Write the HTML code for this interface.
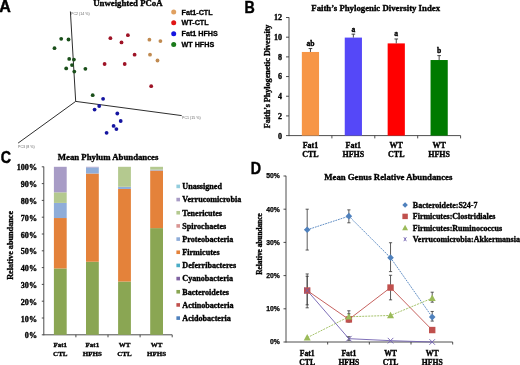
<!DOCTYPE html>
<html><head><meta charset="utf-8"><style>
html,body{margin:0;padding:0;background:#fff;width:520px;height:365px;overflow:hidden}
svg{display:block;will-change:transform;filter:blur(0.3px)}
</style></head><body>
<svg width="520" height="365" viewBox="0 0 520 365">
<rect width="520" height="365" fill="#fff"/>
<text x="0" y="0" font-size="16" text-anchor="middle" font-family='"Liberation Sans", sans-serif' font-weight="bold" fill="#000" stroke="#000" stroke-width="0.45" transform="translate(5.0,12.2) scale(1.0,1)">A</text>
<text x="0" y="0" font-size="16" text-anchor="middle" font-family='"Liberation Sans", sans-serif' font-weight="bold" fill="#000" stroke="#000" stroke-width="0.45" transform="translate(249.7,12.7) scale(0.89,1)">B</text>
<text x="0" y="0" font-size="16" text-anchor="middle" font-family='"Liberation Sans", sans-serif' font-weight="bold" fill="#000" stroke="#000" stroke-width="0.45" transform="translate(5.9,163.3) scale(0.89,1)">C</text>
<text x="0" y="0" font-size="16" text-anchor="middle" font-family='"Liberation Sans", sans-serif' font-weight="bold" fill="#000" stroke="#000" stroke-width="0.45" transform="translate(256.0,173.9) scale(0.89,1)">D</text>
<text x="127.9" y="5.8" font-size="8.75" text-anchor="middle" font-family='"Liberation Serif", serif' font-weight="bold" fill="#000" stroke="#000" stroke-width="0.35" >Unweighted PCoA</text>
<line x1="70.4" y1="11.5" x2="75.7" y2="101.4" stroke="#2e2e2e" stroke-width="1.0" />
<line x1="75.7" y1="101.4" x2="181.7" y2="115.6" stroke="#2e2e2e" stroke-width="1.0" />
<line x1="75.7" y1="101.4" x2="18.1" y2="143.1" stroke="#2e2e2e" stroke-width="1.0" />
<text x="71" y="15.2" font-size="3.6" text-anchor="start" font-family='"Liberation Sans", sans-serif' font-weight="normal" fill="#666"  >PC2 (14 %)</text>
<text x="182" y="119.2" font-size="3.6" text-anchor="start" font-family='"Liberation Sans", sans-serif' font-weight="normal" fill="#666"  >PC1 (15 %)</text>
<text x="18" y="147.6" font-size="3.6" text-anchor="start" font-family='"Liberation Sans", sans-serif' font-weight="normal" fill="#666"  >PC3 (8 %)</text>
<circle cx="110.4" cy="38.2" r="1.9" fill="#9e1326"/>
<circle cx="127.9" cy="35.2" r="1.9" fill="#9e1326"/>
<circle cx="121.5" cy="42.4" r="1.9" fill="#9e1326"/>
<circle cx="134.6" cy="54.7" r="1.9" fill="#9e1326"/>
<circle cx="104.6" cy="64" r="1.9" fill="#9e1326"/>
<circle cx="124.7" cy="64" r="1.9" fill="#9e1326"/>
<circle cx="151.2" cy="86.2" r="1.9" fill="#9e1326"/>
<circle cx="149.4" cy="39.7" r="1.9" fill="#c08a50"/>
<circle cx="160.4" cy="41.1" r="1.9" fill="#c08a50"/>
<circle cx="150" cy="54.7" r="1.9" fill="#c08a50"/>
<circle cx="157.5" cy="60.5" r="1.9" fill="#c08a50"/>
<circle cx="61.2" cy="38.8" r="1.9" fill="#1a4f1a"/>
<circle cx="68.5" cy="39.5" r="1.9" fill="#1a4f1a"/>
<circle cx="69.2" cy="58.9" r="1.9" fill="#1a4f1a"/>
<circle cx="73.9" cy="59.6" r="1.9" fill="#1a4f1a"/>
<circle cx="72" cy="65.1" r="1.9" fill="#1a4f1a"/>
<circle cx="66.2" cy="68.4" r="1.9" fill="#1a4f1a"/>
<circle cx="74.3" cy="71.6" r="1.9" fill="#1a4f1a"/>
<circle cx="85.4" cy="68.8" r="1.9" fill="#1a4f1a"/>
<circle cx="92.7" cy="95.2" r="1.9" fill="#1a4f1a"/>
<circle cx="54.5" cy="48.2" r="1.9" fill="#1a4f1a"/>
<circle cx="103.1" cy="98.8" r="1.9" fill="#1414a0"/>
<circle cx="99.2" cy="106" r="1.9" fill="#1414a0"/>
<circle cx="94.6" cy="109.6" r="1.9" fill="#1414a0"/>
<circle cx="117.3" cy="113.5" r="1.9" fill="#1414a0"/>
<circle cx="120.7" cy="121" r="1.9" fill="#1414a0"/>
<circle cx="113.6" cy="125.9" r="1.9" fill="#1414a0"/>
<circle cx="116.4" cy="129.1" r="1.9" fill="#1414a0"/>
<circle cx="106.6" cy="132.8" r="1.9" fill="#1414a0"/>
<circle cx="173.7" cy="11.9" r="2.5" fill="#e0a060"/>
<text x="181.5" y="14.5" font-size="7.2" text-anchor="start" font-family='"Liberation Sans", sans-serif' font-weight="bold" fill="#000" stroke="#000" stroke-width="0.3" >Fat1-CTL</text>
<circle cx="173.7" cy="22.8" r="2.5" fill="#e01515"/>
<text x="181.5" y="25.400000000000002" font-size="7.2" text-anchor="start" font-family='"Liberation Sans", sans-serif' font-weight="bold" fill="#000" stroke="#000" stroke-width="0.3" >WT-CTL</text>
<circle cx="173.7" cy="33.7" r="2.5" fill="#1515e0"/>
<text x="181.5" y="36.300000000000004" font-size="7.2" text-anchor="start" font-family='"Liberation Sans", sans-serif' font-weight="bold" fill="#000" stroke="#000" stroke-width="0.3" >Fat1 HFHS</text>
<circle cx="173.7" cy="44.6" r="2.5" fill="#1a7a1a"/>
<text x="181.5" y="47.2" font-size="7.2" text-anchor="start" font-family='"Liberation Sans", sans-serif' font-weight="bold" fill="#000" stroke="#000" stroke-width="0.3" >WT HFHS</text>
<text x="375.65" y="10.9" font-size="8.75" text-anchor="middle" font-family='"Liberation Serif", serif' font-weight="bold" fill="#000" stroke="#000" stroke-width="0.35" >Faith’s Phylogenic Diversity Index</text>
<line x1="289" y1="17.3" x2="289" y2="136.1" stroke="#3a3a3a" stroke-width="0.9" />
<line x1="286" y1="135.6" x2="289" y2="135.6" stroke="#3a3a3a" stroke-width="0.9" />
<text x="281.9" y="138.5" font-size="8.0" text-anchor="end" font-family='"Liberation Serif", serif' font-weight="bold" fill="#000" stroke="#000" stroke-width="0.35" >0</text>
<line x1="286" y1="115.91999999999999" x2="289" y2="115.91999999999999" stroke="#3a3a3a" stroke-width="0.9" />
<text x="281.9" y="118.82" font-size="8.0" text-anchor="end" font-family='"Liberation Serif", serif' font-weight="bold" fill="#000" stroke="#000" stroke-width="0.35" >2</text>
<line x1="286" y1="96.24" x2="289" y2="96.24" stroke="#3a3a3a" stroke-width="0.9" />
<text x="281.9" y="99.14" font-size="8.0" text-anchor="end" font-family='"Liberation Serif", serif' font-weight="bold" fill="#000" stroke="#000" stroke-width="0.35" >4</text>
<line x1="286" y1="76.56" x2="289" y2="76.56" stroke="#3a3a3a" stroke-width="0.9" />
<text x="281.9" y="79.46000000000001" font-size="8.0" text-anchor="end" font-family='"Liberation Serif", serif' font-weight="bold" fill="#000" stroke="#000" stroke-width="0.35" >6</text>
<line x1="286" y1="56.879999999999995" x2="289" y2="56.879999999999995" stroke="#3a3a3a" stroke-width="0.9" />
<text x="281.9" y="59.779999999999994" font-size="8.0" text-anchor="end" font-family='"Liberation Serif", serif' font-weight="bold" fill="#000" stroke="#000" stroke-width="0.35" >8</text>
<line x1="286" y1="37.19999999999999" x2="289" y2="37.19999999999999" stroke="#3a3a3a" stroke-width="0.9" />
<text x="281.9" y="40.09999999999999" font-size="8.0" text-anchor="end" font-family='"Liberation Serif", serif' font-weight="bold" fill="#000" stroke="#000" stroke-width="0.35" >10</text>
<line x1="286" y1="17.519999999999996" x2="289" y2="17.519999999999996" stroke="#3a3a3a" stroke-width="0.9" />
<text x="281.9" y="20.419999999999995" font-size="8.0" text-anchor="end" font-family='"Liberation Serif", serif' font-weight="bold" fill="#000" stroke="#000" stroke-width="0.35" >12</text>
<line x1="289" y1="135.6" x2="460.6" y2="135.6" stroke="#3a3a3a" stroke-width="0.9" />
<line x1="331.9" y1="135.6" x2="331.9" y2="138.4" stroke="#3a3a3a" stroke-width="0.9" />
<line x1="374.8" y1="135.6" x2="374.8" y2="138.4" stroke="#3a3a3a" stroke-width="0.9" />
<line x1="417.7" y1="135.6" x2="417.7" y2="138.4" stroke="#3a3a3a" stroke-width="0.9" />
<line x1="460.6" y1="135.6" x2="460.6" y2="138.4" stroke="#3a3a3a" stroke-width="0.9" />
<rect x="301.84999999999997" y="51.959999999999994" width="17.2" height="83.64" fill="#f79646"/>
<line x1="310.45" y1="48.516000000000005" x2="310.45" y2="51.959999999999994" stroke="#333" stroke-width="0.9" />
<line x1="308.65" y1="48.516000000000005" x2="312.25" y2="48.516000000000005" stroke="#333" stroke-width="0.9" />
<text x="310.45" y="46.016000000000005" font-size="7.6" text-anchor="middle" font-family='"Liberation Serif", serif' font-weight="bold" fill="#000" stroke="#000" stroke-width="0.35" >ab</text>
<text x="310.45" y="147.6" font-size="8.0" text-anchor="middle" font-family='"Liberation Serif", serif' font-weight="bold" fill="#000" stroke="#000" stroke-width="0.35" >Fat1</text>
<text x="310.45" y="157.2" font-size="8.0" text-anchor="middle" font-family='"Liberation Serif", serif' font-weight="bold" fill="#000" stroke="#000" stroke-width="0.35" >CTL</text>
<rect x="344.74999999999994" y="37.59359999999998" width="17.2" height="98.00640000000001" fill="#5548f8"/>
<line x1="353.34999999999997" y1="34.14959999999999" x2="353.34999999999997" y2="37.59359999999998" stroke="#333" stroke-width="0.9" />
<line x1="351.54999999999995" y1="34.14959999999999" x2="355.15" y2="34.14959999999999" stroke="#333" stroke-width="0.9" />
<text x="353.34999999999997" y="31.649599999999992" font-size="7.6" text-anchor="middle" font-family='"Liberation Serif", serif' font-weight="bold" fill="#000" stroke="#000" stroke-width="0.35" >a</text>
<text x="353.34999999999997" y="147.6" font-size="8.0" text-anchor="middle" font-family='"Liberation Serif", serif' font-weight="bold" fill="#000" stroke="#000" stroke-width="0.35" >Fat1</text>
<text x="353.34999999999997" y="157.2" font-size="8.0" text-anchor="middle" font-family='"Liberation Serif", serif' font-weight="bold" fill="#000" stroke="#000" stroke-width="0.35" >HFHS</text>
<rect x="387.65" y="43.39920000000001" width="17.2" height="92.20079999999999" fill="#ff0000"/>
<line x1="396.25" y1="38.97120000000001" x2="396.25" y2="43.39920000000001" stroke="#333" stroke-width="0.9" />
<line x1="394.45" y1="38.97120000000001" x2="398.05" y2="38.97120000000001" stroke="#333" stroke-width="0.9" />
<text x="396.25" y="36.47120000000001" font-size="7.6" text-anchor="middle" font-family='"Liberation Serif", serif' font-weight="bold" fill="#000" stroke="#000" stroke-width="0.35" >a</text>
<text x="396.25" y="147.6" font-size="8.0" text-anchor="middle" font-family='"Liberation Serif", serif' font-weight="bold" fill="#000" stroke="#000" stroke-width="0.35" >WT</text>
<text x="396.25" y="157.2" font-size="8.0" text-anchor="middle" font-family='"Liberation Serif", serif' font-weight="bold" fill="#000" stroke="#000" stroke-width="0.35" >CTL</text>
<rect x="430.54999999999995" y="60.028800000000004" width="17.2" height="75.57119999999999" fill="#007a00"/>
<line x1="439.15" y1="55.60080000000001" x2="439.15" y2="60.028800000000004" stroke="#333" stroke-width="0.9" />
<line x1="437.34999999999997" y1="55.60080000000001" x2="440.95" y2="55.60080000000001" stroke="#333" stroke-width="0.9" />
<text x="439.15" y="53.10080000000001" font-size="7.6" text-anchor="middle" font-family='"Liberation Serif", serif' font-weight="bold" fill="#000" stroke="#000" stroke-width="0.35" >b</text>
<text x="439.15" y="147.6" font-size="8.0" text-anchor="middle" font-family='"Liberation Serif", serif' font-weight="bold" fill="#000" stroke="#000" stroke-width="0.35" >WT</text>
<text x="439.15" y="157.2" font-size="8.0" text-anchor="middle" font-family='"Liberation Serif", serif' font-weight="bold" fill="#000" stroke="#000" stroke-width="0.35" >HFHS</text>
<text x="0" y="0" font-size="8.1" text-anchor="middle" font-family='"Liberation Serif", serif' font-weight="bold" fill="#000" stroke="#000" stroke-width="0.35" transform="translate(269.8,76.4) rotate(-90)">Faith’s Phylogenetic Diversity</text>
<text x="108.1" y="159.9" font-size="8.75" text-anchor="middle" font-family='"Liberation Serif", serif' font-weight="bold" fill="#000" stroke="#000" stroke-width="0.35" >Mean Phylum Abundances</text>
<line x1="43.8" y1="166.6" x2="43.8" y2="335.3" stroke="#3a3a3a" stroke-width="0.9" />
<line x1="41.8" y1="334.8" x2="43.8" y2="334.8" stroke="#3a3a3a" stroke-width="0.9" />
<text x="37.0" y="338.3" font-size="8.1" text-anchor="end" font-family='"Liberation Serif", serif' font-weight="bold" fill="#000" stroke="#000" stroke-width="0.35" >0%</text>
<line x1="41.8" y1="318.0" x2="43.8" y2="318.0" stroke="#3a3a3a" stroke-width="0.9" />
<text x="37.0" y="321.5" font-size="8.1" text-anchor="end" font-family='"Liberation Serif", serif' font-weight="bold" fill="#000" stroke="#000" stroke-width="0.35" >10%</text>
<line x1="41.8" y1="301.2" x2="43.8" y2="301.2" stroke="#3a3a3a" stroke-width="0.9" />
<text x="37.0" y="304.7" font-size="8.1" text-anchor="end" font-family='"Liberation Serif", serif' font-weight="bold" fill="#000" stroke="#000" stroke-width="0.35" >20%</text>
<line x1="41.8" y1="284.4" x2="43.8" y2="284.4" stroke="#3a3a3a" stroke-width="0.9" />
<text x="37.0" y="287.9" font-size="8.1" text-anchor="end" font-family='"Liberation Serif", serif' font-weight="bold" fill="#000" stroke="#000" stroke-width="0.35" >30%</text>
<line x1="41.8" y1="267.6" x2="43.8" y2="267.6" stroke="#3a3a3a" stroke-width="0.9" />
<text x="37.0" y="271.1" font-size="8.1" text-anchor="end" font-family='"Liberation Serif", serif' font-weight="bold" fill="#000" stroke="#000" stroke-width="0.35" >40%</text>
<line x1="41.8" y1="250.8" x2="43.8" y2="250.8" stroke="#3a3a3a" stroke-width="0.9" />
<text x="37.0" y="254.3" font-size="8.1" text-anchor="end" font-family='"Liberation Serif", serif' font-weight="bold" fill="#000" stroke="#000" stroke-width="0.35" >50%</text>
<line x1="41.8" y1="234.0" x2="43.8" y2="234.0" stroke="#3a3a3a" stroke-width="0.9" />
<text x="37.0" y="237.5" font-size="8.1" text-anchor="end" font-family='"Liberation Serif", serif' font-weight="bold" fill="#000" stroke="#000" stroke-width="0.35" >60%</text>
<line x1="41.8" y1="217.2" x2="43.8" y2="217.2" stroke="#3a3a3a" stroke-width="0.9" />
<text x="37.0" y="220.7" font-size="8.1" text-anchor="end" font-family='"Liberation Serif", serif' font-weight="bold" fill="#000" stroke="#000" stroke-width="0.35" >70%</text>
<line x1="41.8" y1="200.4" x2="43.8" y2="200.4" stroke="#3a3a3a" stroke-width="0.9" />
<text x="37.0" y="203.9" font-size="8.1" text-anchor="end" font-family='"Liberation Serif", serif' font-weight="bold" fill="#000" stroke="#000" stroke-width="0.35" >80%</text>
<line x1="41.8" y1="183.6" x2="43.8" y2="183.6" stroke="#3a3a3a" stroke-width="0.9" />
<text x="37.0" y="187.1" font-size="8.1" text-anchor="end" font-family='"Liberation Serif", serif' font-weight="bold" fill="#000" stroke="#000" stroke-width="0.35" >90%</text>
<line x1="41.8" y1="166.8" x2="43.8" y2="166.8" stroke="#3a3a3a" stroke-width="0.9" />
<text x="37.0" y="170.3" font-size="8.1" text-anchor="end" font-family='"Liberation Serif", serif' font-weight="bold" fill="#000" stroke="#000" stroke-width="0.35" >100%</text>
<line x1="43.8" y1="334.8" x2="172.2" y2="334.8" stroke="#3a3a3a" stroke-width="0.9" />
<line x1="75.9" y1="334.8" x2="75.9" y2="337.3" stroke="#3a3a3a" stroke-width="0.9" />
<line x1="108.0" y1="334.8" x2="108.0" y2="337.3" stroke="#3a3a3a" stroke-width="0.9" />
<line x1="140.10000000000002" y1="334.8" x2="140.10000000000002" y2="337.3" stroke="#3a3a3a" stroke-width="0.9" />
<line x1="172.2" y1="334.8" x2="172.2" y2="337.3" stroke="#3a3a3a" stroke-width="0.9" />
<rect x="53.9" y="268.44" width="12.8" height="66.36000000000001" fill="#8aa653"/>
<rect x="53.9" y="218.04" width="12.8" height="50.400000000000006" fill="#e4823a"/>
<rect x="53.9" y="202.92000000000002" width="12.8" height="15.119999999999976" fill="#8fadd9"/>
<rect x="53.9" y="192.336" width="12.8" height="10.584000000000003" fill="#b4c98f"/>
<rect x="53.9" y="166.8" width="12.8" height="25.536" fill="#a89cc6"/>
<text x="60.3" y="346.8" font-size="7.0" text-anchor="middle" font-family='"Liberation Serif", serif' font-weight="bold" fill="#000" stroke="#000" stroke-width="0.35" >Fat1</text>
<text x="60.3" y="355.5" font-size="7.0" text-anchor="middle" font-family='"Liberation Serif", serif' font-weight="bold" fill="#000" stroke="#000" stroke-width="0.35" >CTL</text>
<rect x="86.0" y="261.72" width="12.8" height="73.07999999999998" fill="#8aa653"/>
<rect x="86.0" y="173.51999999999998" width="12.8" height="88.20000000000005" fill="#e4823a"/>
<rect x="86.0" y="167.472" width="12.8" height="6.047999999999973" fill="#8fadd9"/>
<rect x="86.0" y="166.8" width="12.8" height="0.671999999999997" fill="#a89cc6"/>
<text x="92.4" y="346.8" font-size="7.0" text-anchor="middle" font-family='"Liberation Serif", serif' font-weight="bold" fill="#000" stroke="#000" stroke-width="0.35" >Fat1</text>
<text x="92.4" y="355.5" font-size="7.0" text-anchor="middle" font-family='"Liberation Serif", serif' font-weight="bold" fill="#000" stroke="#000" stroke-width="0.35" >HFHS</text>
<rect x="118.1" y="281.544" width="12.8" height="53.25600000000003" fill="#8aa653"/>
<rect x="118.1" y="188.976" width="12.8" height="92.56799999999998" fill="#e4823a"/>
<rect x="118.1" y="186.79200000000003" width="12.8" height="2.183999999999969" fill="#8fadd9"/>
<rect x="118.1" y="166.8" width="12.8" height="19.99200000000002" fill="#b4c98f"/>
<text x="124.5" y="346.8" font-size="7.0" text-anchor="middle" font-family='"Liberation Serif", serif' font-weight="bold" fill="#000" stroke="#000" stroke-width="0.35" >WT</text>
<text x="124.5" y="355.5" font-size="7.0" text-anchor="middle" font-family='"Liberation Serif", serif' font-weight="bold" fill="#000" stroke="#000" stroke-width="0.35" >CTL</text>
<rect x="150.20000000000002" y="228.12" width="12.8" height="106.68" fill="#8aa653"/>
<rect x="150.20000000000002" y="170.496" width="12.8" height="57.623999999999995" fill="#e4823a"/>
<rect x="150.20000000000002" y="169.656" width="12.8" height="0.8400000000000034" fill="#8fadd9"/>
<rect x="150.20000000000002" y="166.8" width="12.8" height="2.8559999999999945" fill="#b4c98f"/>
<text x="156.60000000000002" y="346.8" font-size="7.0" text-anchor="middle" font-family='"Liberation Serif", serif' font-weight="bold" fill="#000" stroke="#000" stroke-width="0.35" >WT</text>
<text x="156.60000000000002" y="355.5" font-size="7.0" text-anchor="middle" font-family='"Liberation Serif", serif' font-weight="bold" fill="#000" stroke="#000" stroke-width="0.35" >HFHS</text>
<text x="0" y="0" font-size="8.2" text-anchor="middle" font-family='"Liberation Serif", serif' font-weight="bold" fill="#000" stroke="#000" stroke-width="0.35" transform="translate(12.6,245.4) rotate(-90)">Relative abundance</text>
<rect x="176.4" y="184.6" width="3.6" height="3.6" fill="#93cddd"/>
<text x="182.3" y="189.20000000000002" font-size="8.1" text-anchor="start" font-family='"Liberation Serif", serif' font-weight="bold" fill="#000" stroke="#000" stroke-width="0.35" >Unassigned</text>
<rect x="176.4" y="197.76999999999998" width="3.6" height="3.6" fill="#a89cc6"/>
<text x="182.3" y="202.37" font-size="8.1" text-anchor="start" font-family='"Liberation Serif", serif' font-weight="bold" fill="#000" stroke="#000" stroke-width="0.35" >Verrucomicrobia</text>
<rect x="176.4" y="210.94" width="3.6" height="3.6" fill="#b4c98f"/>
<text x="182.3" y="215.54000000000002" font-size="8.1" text-anchor="start" font-family='"Liberation Serif", serif' font-weight="bold" fill="#000" stroke="#000" stroke-width="0.35" >Tenericutes</text>
<rect x="176.4" y="224.10999999999999" width="3.6" height="3.6" fill="#d99694"/>
<text x="182.3" y="228.71" font-size="8.1" text-anchor="start" font-family='"Liberation Serif", serif' font-weight="bold" fill="#000" stroke="#000" stroke-width="0.35" >Spirochaetes</text>
<rect x="176.4" y="237.28" width="3.6" height="3.6" fill="#8fadd9"/>
<text x="182.3" y="241.88000000000002" font-size="8.1" text-anchor="start" font-family='"Liberation Serif", serif' font-weight="bold" fill="#000" stroke="#000" stroke-width="0.35" >Proteobacteria</text>
<rect x="176.4" y="250.45" width="3.6" height="3.6" fill="#e4823a"/>
<text x="182.3" y="255.05" font-size="8.1" text-anchor="start" font-family='"Liberation Serif", serif' font-weight="bold" fill="#000" stroke="#000" stroke-width="0.35" >Firmicutes</text>
<rect x="176.4" y="263.62" width="3.6" height="3.6" fill="#4bacc6"/>
<text x="182.3" y="268.22" font-size="8.1" text-anchor="start" font-family='"Liberation Serif", serif' font-weight="bold" fill="#000" stroke="#000" stroke-width="0.35" >Deferribacteres</text>
<rect x="176.4" y="276.79" width="3.6" height="3.6" fill="#8064a2"/>
<text x="182.3" y="281.39000000000004" font-size="8.1" text-anchor="start" font-family='"Liberation Serif", serif' font-weight="bold" fill="#000" stroke="#000" stroke-width="0.35" >Cyanobacteria</text>
<rect x="176.4" y="289.96" width="3.6" height="3.6" fill="#8aa653"/>
<text x="182.3" y="294.56" font-size="8.1" text-anchor="start" font-family='"Liberation Serif", serif' font-weight="bold" fill="#000" stroke="#000" stroke-width="0.35" >Bacteroidetes</text>
<rect x="176.4" y="303.13" width="3.6" height="3.6" fill="#c0504d"/>
<text x="182.3" y="307.73" font-size="8.1" text-anchor="start" font-family='"Liberation Serif", serif' font-weight="bold" fill="#000" stroke="#000" stroke-width="0.35" >Actinobacteria</text>
<rect x="176.4" y="316.3" width="3.6" height="3.6" fill="#4f81bd"/>
<text x="182.3" y="320.90000000000003" font-size="8.1" text-anchor="start" font-family='"Liberation Serif", serif' font-weight="bold" fill="#000" stroke="#000" stroke-width="0.35" >Acidobacteria</text>
<text x="388.3" y="179.5" font-size="8.75" text-anchor="middle" font-family='"Liberation Serif", serif' font-weight="bold" fill="#000" stroke="#000" stroke-width="0.35" >Mean Genus Relative Abundances</text>
<line x1="286" y1="175.8" x2="286" y2="342.5" stroke="#3a3a3a" stroke-width="0.9" />
<line x1="283.5" y1="342.0" x2="286" y2="342.0" stroke="#3a3a3a" stroke-width="0.9" />
<text x="279.9" y="344.4" font-size="6.8" text-anchor="end" font-family='"Liberation Sans", sans-serif' font-weight="bold" fill="#000" stroke="#000" stroke-width="0.25" >0%</text>
<line x1="283.5" y1="308.8" x2="286" y2="308.8" stroke="#3a3a3a" stroke-width="0.9" />
<text x="279.9" y="311.2" font-size="6.8" text-anchor="end" font-family='"Liberation Sans", sans-serif' font-weight="bold" fill="#000" stroke="#000" stroke-width="0.25" >10%</text>
<line x1="283.5" y1="275.6" x2="286" y2="275.6" stroke="#3a3a3a" stroke-width="0.9" />
<text x="279.9" y="278.0" font-size="6.8" text-anchor="end" font-family='"Liberation Sans", sans-serif' font-weight="bold" fill="#000" stroke="#000" stroke-width="0.25" >20%</text>
<line x1="283.5" y1="242.39999999999998" x2="286" y2="242.39999999999998" stroke="#3a3a3a" stroke-width="0.9" />
<text x="279.9" y="244.79999999999998" font-size="6.8" text-anchor="end" font-family='"Liberation Sans", sans-serif' font-weight="bold" fill="#000" stroke="#000" stroke-width="0.25" >30%</text>
<line x1="283.5" y1="209.2" x2="286" y2="209.2" stroke="#3a3a3a" stroke-width="0.9" />
<text x="279.9" y="211.6" font-size="6.8" text-anchor="end" font-family='"Liberation Sans", sans-serif' font-weight="bold" fill="#000" stroke="#000" stroke-width="0.25" >40%</text>
<line x1="283.5" y1="176.0" x2="286" y2="176.0" stroke="#3a3a3a" stroke-width="0.9" />
<text x="279.9" y="178.4" font-size="6.8" text-anchor="end" font-family='"Liberation Sans", sans-serif' font-weight="bold" fill="#000" stroke="#000" stroke-width="0.25" >50%</text>
<line x1="286" y1="342" x2="452.7" y2="342" stroke="#3a3a3a" stroke-width="0.9" />
<line x1="327.67" y1="342" x2="327.67" y2="344.5" stroke="#3a3a3a" stroke-width="0.9" />
<line x1="369.34000000000003" y1="342" x2="369.34000000000003" y2="344.5" stroke="#3a3a3a" stroke-width="0.9" />
<line x1="411.01" y1="342" x2="411.01" y2="344.5" stroke="#3a3a3a" stroke-width="0.9" />
<line x1="452.68" y1="342" x2="452.68" y2="344.5" stroke="#3a3a3a" stroke-width="0.9" />
<text x="307.2" y="355.6" font-size="7.7" text-anchor="middle" font-family='"Liberation Serif", serif' font-weight="bold" fill="#000" stroke="#000" stroke-width="0.35" >Fat1</text>
<text x="307.2" y="364.6" font-size="7.7" text-anchor="middle" font-family='"Liberation Serif", serif' font-weight="bold" fill="#000" stroke="#000" stroke-width="0.35" >CTL</text>
<text x="348.87" y="355.6" font-size="7.7" text-anchor="middle" font-family='"Liberation Serif", serif' font-weight="bold" fill="#000" stroke="#000" stroke-width="0.35" >Fat1</text>
<text x="348.87" y="364.6" font-size="7.7" text-anchor="middle" font-family='"Liberation Serif", serif' font-weight="bold" fill="#000" stroke="#000" stroke-width="0.35" >HFHS</text>
<text x="390.53999999999996" y="355.6" font-size="7.7" text-anchor="middle" font-family='"Liberation Serif", serif' font-weight="bold" fill="#000" stroke="#000" stroke-width="0.35" >WT</text>
<text x="390.53999999999996" y="364.6" font-size="7.7" text-anchor="middle" font-family='"Liberation Serif", serif' font-weight="bold" fill="#000" stroke="#000" stroke-width="0.35" >CTL</text>
<text x="432.21" y="355.6" font-size="7.7" text-anchor="middle" font-family='"Liberation Serif", serif' font-weight="bold" fill="#000" stroke="#000" stroke-width="0.35" >WT</text>
<text x="432.21" y="364.6" font-size="7.7" text-anchor="middle" font-family='"Liberation Serif", serif' font-weight="bold" fill="#000" stroke="#000" stroke-width="0.35" >HFHS</text>
<text x="0" y="0" font-size="7.3" text-anchor="middle" font-family='"Liberation Serif", serif' font-weight="bold" fill="#000" stroke="#000" stroke-width="0.35" transform="translate(262.0,244) rotate(-90)">Relative abundance</text>
<polyline points="307.20,229.78 348.87,216.17 390.54,257.67 432.21,317.10" fill="none" stroke="#4f81bd" stroke-width="0.9" stroke-dasharray="1.8,0.9"/>
<polyline points="307.20,290.54 348.87,319.42 390.54,287.55 432.21,330.05" fill="none" stroke="#c0504d" stroke-width="0.9" />
<polyline points="307.20,337.68 348.87,316.77 390.54,315.44 432.21,298.18" fill="none" stroke="#9bbb59" stroke-width="0.9" stroke-dasharray="2,1"/>
<polyline points="307.20,290.54 348.87,338.68 390.54,340.67 432.21,342.00" fill="none" stroke="#7060b0" stroke-width="0.9" />
<line x1="307.2" y1="209.2" x2="307.2" y2="250.036" stroke="#333" stroke-width="0.8" />
<line x1="305.59999999999997" y1="209.2" x2="308.8" y2="209.2" stroke="#333" stroke-width="0.8" />
<line x1="305.59999999999997" y1="250.036" x2="308.8" y2="250.036" stroke="#333" stroke-width="0.8" />
<line x1="348.87" y1="209.86399999999998" x2="348.87" y2="222.81199999999998" stroke="#333" stroke-width="0.8" />
<line x1="347.27" y1="209.86399999999998" x2="350.47" y2="209.86399999999998" stroke="#333" stroke-width="0.8" />
<line x1="347.27" y1="222.81199999999998" x2="350.47" y2="222.81199999999998" stroke="#333" stroke-width="0.8" />
<line x1="390.53999999999996" y1="242.732" x2="390.53999999999996" y2="271.616" stroke="#333" stroke-width="0.8" />
<line x1="388.93999999999994" y1="242.732" x2="392.14" y2="242.732" stroke="#333" stroke-width="0.8" />
<line x1="388.93999999999994" y1="271.616" x2="392.14" y2="271.616" stroke="#333" stroke-width="0.8" />
<line x1="432.21" y1="311.456" x2="432.21" y2="321.084" stroke="#333" stroke-width="0.8" />
<line x1="430.60999999999996" y1="311.456" x2="433.81" y2="311.456" stroke="#333" stroke-width="0.8" />
<line x1="430.60999999999996" y1="321.084" x2="433.81" y2="321.084" stroke="#333" stroke-width="0.8" />
<line x1="307.2" y1="273.94" x2="307.2" y2="307.804" stroke="#333" stroke-width="0.8" />
<line x1="305.59999999999997" y1="273.94" x2="308.8" y2="273.94" stroke="#333" stroke-width="0.8" />
<line x1="305.59999999999997" y1="307.804" x2="308.8" y2="307.804" stroke="#333" stroke-width="0.8" />
<line x1="348.87" y1="313.78" x2="348.87" y2="319.424" stroke="#333" stroke-width="0.8" />
<line x1="347.27" y1="313.78" x2="350.47" y2="313.78" stroke="#333" stroke-width="0.8" />
<line x1="347.27" y1="319.424" x2="350.47" y2="319.424" stroke="#333" stroke-width="0.8" />
<line x1="390.53999999999996" y1="275.26800000000003" x2="390.53999999999996" y2="299.836" stroke="#333" stroke-width="0.8" />
<line x1="388.93999999999994" y1="275.26800000000003" x2="392.14" y2="275.26800000000003" stroke="#333" stroke-width="0.8" />
<line x1="388.93999999999994" y1="299.836" x2="392.14" y2="299.836" stroke="#333" stroke-width="0.8" />
<line x1="348.87" y1="310.792" x2="348.87" y2="322.08" stroke="#333" stroke-width="0.8" />
<line x1="347.27" y1="310.792" x2="350.47" y2="310.792" stroke="#333" stroke-width="0.8" />
<line x1="347.27" y1="322.08" x2="350.47" y2="322.08" stroke="#333" stroke-width="0.8" />
<line x1="432.21" y1="292.2" x2="432.21" y2="302.15999999999997" stroke="#333" stroke-width="0.8" />
<line x1="430.60999999999996" y1="292.2" x2="433.81" y2="292.2" stroke="#333" stroke-width="0.8" />
<line x1="430.60999999999996" y1="302.15999999999997" x2="433.81" y2="302.15999999999997" stroke="#333" stroke-width="0.8" />
<line x1="307.2" y1="276.264" x2="307.2" y2="304.816" stroke="#333" stroke-width="0.8" />
<line x1="305.59999999999997" y1="276.264" x2="308.8" y2="276.264" stroke="#333" stroke-width="0.8" />
<line x1="305.59999999999997" y1="304.816" x2="308.8" y2="304.816" stroke="#333" stroke-width="0.8" />
<line x1="348.87" y1="336.688" x2="348.87" y2="340.34" stroke="#333" stroke-width="0.8" />
<line x1="347.27" y1="336.688" x2="350.47" y2="336.688" stroke="#333" stroke-width="0.8" />
<line x1="347.27" y1="340.34" x2="350.47" y2="340.34" stroke="#333" stroke-width="0.8" />
<path d="M307.2 226.48399999999998L310.5 229.784L307.2 233.084L303.9 229.784Z" fill="#4f81bd"/>
<path d="M348.87 212.87199999999999L352.17 216.172L348.87 219.472L345.57 216.172Z" fill="#4f81bd"/>
<path d="M390.53999999999996 254.372L393.84 257.672L390.53999999999996 260.97200000000004L387.23999999999995 257.672Z" fill="#4f81bd"/>
<path d="M432.21 313.8L435.51 317.1L432.21 320.40000000000003L428.90999999999997 317.1Z" fill="#4f81bd"/>
<rect x="304.0" y="287.34000000000003" width="6.4" height="6.4" fill="#c0504d"/>
<rect x="345.67" y="316.224" width="6.4" height="6.4" fill="#c0504d"/>
<rect x="387.34" y="284.35200000000003" width="6.4" height="6.4" fill="#c0504d"/>
<rect x="429.01" y="326.848" width="6.4" height="6.4" fill="#c0504d"/>
<path d="M307.2 334.084L310.7 340.48400000000004L303.7 340.48400000000004Z" fill="#9bbb59"/>
<path d="M348.87 313.16799999999995L352.37 319.568L345.37 319.568Z" fill="#9bbb59"/>
<path d="M390.53999999999996 311.84L394.03999999999996 318.24L387.03999999999996 318.24Z" fill="#9bbb59"/>
<path d="M432.21 294.57599999999996L435.71 300.976L428.71 300.976Z" fill="#9bbb59"/>
<path d="M304.4 287.74L310.0 293.34000000000003M310.0 287.74L304.4 293.34000000000003" stroke="#7060b0" stroke-width="0.9"/>
<path d="M346.07 335.88L351.67 341.48M351.67 335.88L346.07 341.48" stroke="#7060b0" stroke-width="0.9"/>
<path d="M387.73999999999995 337.872L393.34 343.47200000000004M393.34 337.872L387.73999999999995 343.47200000000004" stroke="#7060b0" stroke-width="0.9"/>
<path d="M429.40999999999997 339.2L435.01 344.8M435.01 339.2L429.40999999999997 344.8" stroke="#7060b0" stroke-width="0.9"/>
<path d="M405.1 202.195L407.90500000000003 205.0L405.1 207.805L402.295 205.0Z" fill="#4f81bd"/>
<text x="412.8" y="207.7" font-size="8.0" text-anchor="start" font-family='"Liberation Serif", serif' font-weight="bold" fill="#000" stroke="#000" stroke-width="0.35" >Bacteroidete:S24-7</text>
<rect x="402.38" y="213.68" width="5.44" height="5.44" fill="#c0504d"/>
<text x="412.8" y="219.1" font-size="8.0" text-anchor="start" font-family='"Liberation Serif", serif' font-weight="bold" fill="#000" stroke="#000" stroke-width="0.35" >Firmicutes:Clostridiales</text>
<path d="M405.1 224.74L408.07500000000005 230.18L402.125 230.18Z" fill="#9bbb59"/>
<text x="412.8" y="230.5" font-size="8.0" text-anchor="start" font-family='"Liberation Serif", serif' font-weight="bold" fill="#000" stroke="#000" stroke-width="0.35" >Firmicutes:Ruminococcus</text>
<path d="M403.84000000000003 237.2L406.36 241.2M406.36 237.2L403.84000000000003 241.2" stroke="#7060b0" stroke-width="0.9"/>
<text x="412.8" y="241.89999999999998" font-size="8.0" text-anchor="start" font-family='"Liberation Serif", serif' font-weight="bold" fill="#000" stroke="#000" stroke-width="0.35" >Verrucomicrobia:Akkermansia</text>
</svg>
</body></html>
